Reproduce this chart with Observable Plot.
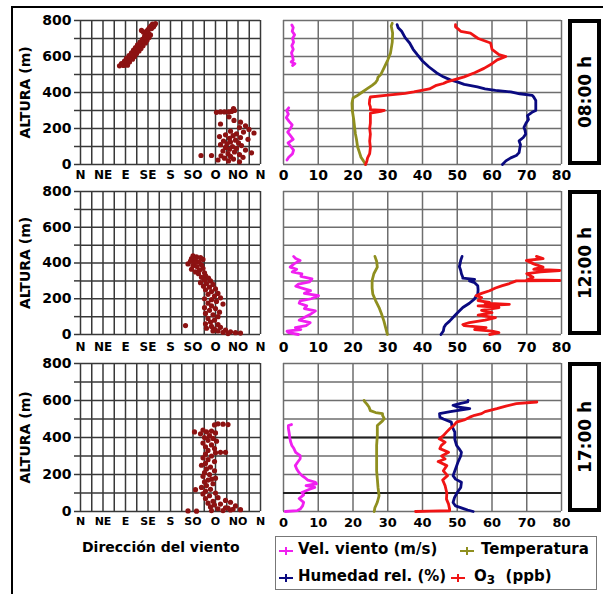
<!DOCTYPE html>
<html><head><meta charset="utf-8">
<script src="https://cdn.jsdelivr.net/npm/d3@7"></script>
<script src="https://cdn.jsdelivr.net/npm/@observablehq/plot@0.6"></script>
<style>
body{margin:0;background:#fff;font-family:"DejaVu Sans",sans-serif;}
#root{position:relative;width:603px;height:594px;overflow:hidden;background:#fff}
.tbox{position:absolute;border:4px solid #000;box-sizing:border-box;background:#fff}
.tbox span{position:absolute;left:50%;top:50%;transform:translate(-50%,-50%) rotate(-90deg);font-weight:bold;font-size:17px;white-space:nowrap}
.lg{position:absolute;font-weight:bold;font-size:15px;white-space:nowrap;line-height:1}
.mk{position:absolute}
</style></head>
<body><div id="root"></div>
<script>
// ---------- labels ----------
const dirLabels = ["N","NE","E","SE","S","SO","O","NO","N"];
const dirTicks = [0,45,90,135,180,225,270,315,360];
const valueTicks = [0,10,20,30,40,50,60,70,80];
const altTicks = [0,100,200,300,400,500,600,700,800];
const hourLabels = ["08:00 h","12:00 h","17:00 h"];
const seriesNames = ["Vel. viento (m/s)","Temperatura","Humedad rel. (%)","O3 (ppb)"];
const xTitleLeft = "Dirección del viento";
const yTitle = "ALTURA (m)";

// ---------- 08:00 ----------
// wind direction [altitude m, degrees]
const dir08 = [[548,78],[550,86],[552,94],[560,82],[565,92],[570,98],[575,88],[580,96],[585,104],[590,92],[595,100],[600,108],[605,97],[610,105],[615,112],[620,102],[625,110],[630,117],[635,106],[640,114],[645,121],[650,110],[655,118],[660,125],[665,114],[670,122],[675,130],[680,119],[685,127],[690,133],[695,124],[700,131],[705,137],[710,128],[715,135],[720,140],[725,130],[730,136],[735,126],[740,132],[745,122],[750,135],[755,142],[760,138],[765,146],[770,141],[775,148],[780,144],[783,150],
[290,272],[292,280],[292,288],[292,296],[295,302],[300,308],[310,306],[265,297],[245,307],[235,320],[225,280],[215,330],[205,318],[195,337],[185,300],[180,326],[175,347],[170,312],[165,290],[160,305],[155,278],[150,320],[145,298],[140,335],[135,310],[130,286],[125,300],[120,316],[115,293],[110,280],[105,322],[100,304],[95,290],[90,312],[85,298],[80,330],[75,285],[70,308],[65,342],[60,295],[55,318],[50,241],[50,262],[48,281],[45,300],[40,325],[35,288],[30,306],[25,275],[20,296],[15,318]];
// profiles [altitude m, value]
const ws08 = [[25,1.0],[40,1.5],[60,2.6],[80,2.9],[100,2.1],[120,1.3],[140,2.8],[160,2.0],[180,1.2],[200,2.0],[220,2.5],[240,1.6],[260,0.8],[280,1.4],[300,0.9],[315,1.5],[430,NaN],[550,2.6],[560,3.3],[570,2.2],[580,2.8],[600,2.6],[620,2.3],[640,2.8],[660,2.4],[680,2.9],[700,2.6],[720,3.2],[740,2.5],[760,2.8],[775,2.4]];
const temp08 = [[0,23.6],[20,23],[40,22.3],[70,21.8],[100,21.3],[140,21],[170,20.7],[200,20.5],[250,20.2],[300,19.8],[340,19.7],[370,20],[380,21],[400,22.5],[420,24],[440,25.5],[455,26.5],[470,27],[485,27.2],[500,28],[540,29],[580,30],[620,30.8],[680,31.3],[730,31.4],[770,31],[785,31.3]];
const hum08 = [[0,63],[20,64],[37,65.4],[50,67],[66,67.8],[90,68],[110,68.2],[131,67.8],[150,69],[169,69.7],[190,69.5],[206,69.2],[230,69.8],[250,70.5],[272,70.2],[290,71.5],[300,72.6],[330,72.6],[356,72.6],[375,72],[384,71.6],[393,68],[403,65.4],[412,61],[420,58],[431,55.8],[445,52],[459,50],[470,48],[487,46],[510,44],[543,41.8],[575,40],[610,38.5],[640,37.3],[675,36.3],[705,35],[740,34],[760,33],[777,32.7]];
const o3_08 = [[0,23.6],[20,24],[37,24.2],[60,24.8],[94,25],[130,24.8],[169,25],[200,24.8],[230,25],[262,25],[285,25],[295,28],[300,29],[305,25],[320,25],[337,24.7],[360,24.8],[375,25],[385,30],[395,35],[403,37.5],[420,42],[440,44],[450,46],[459,47],[470,49],[487,52],[510,55],[534,57.7],[560,60],[581,61.5],[600,64],[610,62],[640,60],[675,59.6],[700,56],[730,53.8],[740,51],[749,50.5],[765,49.5],[777,49.5]];

// ---------- 12:00 ----------
const dir12 = [[440,225],[435,232],[430,240],[425,222],[420,245],[415,230],[410,220],[405,237],[400,228],[395,215],[390,242],[385,225],[380,233],[370,245],[365,222],[360,238],[350,230],[345,248],[340,236],[330,250],[320,242],[315,256],[305,248],[300,260],[290,240],[285,252],[280,265],[270,246],[265,258],[255,270],[250,250],[240,262],[230,275],[225,255],[215,268],[205,280],[200,248],[195,262],[185,272],[175,255],[170,285],[160,262],[150,248],[145,270],[135,258],[125,278],[118,250],[110,265],[100,275],[90,255],[80,268],[70,260],[60,250],[55,275],[50,210],[45,262],[40,280],[35,252],[30,268],[25,290],[20,275],[15,300],[12,285],[10,310],[8,320],[5,295],[20,265]];
const ws12 = [[0,4.3],[10,1.5],[19,1],[28,5],[38,3.4],[50,6.5],[66,7.7],[80,4.5],[94,5.8],[110,7.5],[132,9.2],[145,6],[160,6.7],[175,4.5],[188,4.8],[200,8],[217,10.1],[230,6],[245,7.8],[254,6.3],[270,3.5],[282,4.3],[295,7.5],[311,8.2],[325,5],[339,5.3],[350,2.5],[365,3.8],[377,1.9],[395,3],[414,4.8],[425,3.5],[437,2.9]];
const temp12 = [[0,29.9],[30,29.5],[75,28.9],[110,28.3],[151,27.5],[190,26.5],[226,25.7],[260,25.5],[301,25.5],[340,26],[377,27],[410,26.8],[437,26.3]];
const hum12 = [[0,45.3],[20,46],[40,46.2],[56,46.7],[75,47.8],[94,48.7],[120,50],[151,51.6],[175,53.5],[198,54.9],[226,55.9],[250,56],[273,55.9],[290,55],[300,53.5],[308,55],[315,51.6],[320,51.6],[340,51.2],[358,51],[380,50.6],[395,50.8],[415,51],[437,51.4]];
const o3_12 = [[0,59.3],[10,62],[19,60],[28,55],[38,58.3],[50,52],[56,51.6],[66,53.5],[80,58],[94,61],[108,56],[122,60],[135,57],[151,62],[160,56],[169,65],[175,58],[179,59.3],[190,56],[207,57],[217,55.4],[230,57],[245,59.3],[260,61],[273,63],[285,65],[300,67],[302,79.5],[305,70],[320,71.8],[340,70],[350,74],[358,79.5],[365,72],[377,74.7],[395,72],[414,69.9],[425,74.7],[437,72.8]];

// ---------- 17:00 ----------
const dir17 = [[474,275],[472,285],[470,295],[468,268],[440,245],[435,262],[430,228],[430,252],[425,270],[420,240],[410,258],[400,248],[395,265],[385,255],[380,272],[370,245],[360,262],[350,250],[340,268],[330,255],[320,280],[320,290],[318,270],[310,250],[300,262],[290,245],[280,255],[270,268],[260,250],[250,242],[240,260],[230,252],[220,268],[210,248],[200,258],[190,245],[180,270],[175,262],[170,255],[160,248],[150,265],[140,252],[130,242],[120,260],[118,230],[110,250],[100,270],[95,245],[85,258],[75,275],[70,250],[60,290],[55,265],[50,300],[45,255],[40,280],[35,268],[30,310],[25,260],[20,290],[15,275],[10,320],[8,300],[5,285],[3,215],[2,232],[5,262],[12,305],[18,295]];
const ws17 = [[0,0.5],[5,4],[13,4.8],[30,5.5],[49,5.8],[70,4.5],[90,5.8],[103,5.3],[120,7.5],[130,9],[140,6.5],[150,9.5],[158,9.2],[170,7],[185,6],[194,5.3],[210,4.5],[230,3.8],[248,3.4],[265,4],[285,4.8],[302,4.8],[320,3.5],[340,3],[357,2.4],[380,2],[400,1.8],[429,1.6],[450,1.4],[465,1.4],[470,2.3]];
const temp17 = [[0,26.1],[20,26.3],[50,27],[85,27.5],[130,27.2],[176,27],[220,26.8],[266,26.8],[310,26.8],[357,26.8],[410,27],[465,27],[490,28.5],[502,29],[520,28.5],[529,28.5],[535,26.5],[545,25],[565,24.6],[580,24],[595,23.3],[601,23.2]];
const hum17 = [[0,54.6],[8,53],[13,52.2],[30,49.5],[49,48.8],[75,49.2],[103,50],[130,51],[158,51.2],[175,49.5],[194,48.8],[230,49.5],[266,50.2],[300,51],[320,51.2],[340,50.5],[357,49.8],[390,49.3],[429,49.3],[460,48.5],[483,48.3],[500,46],[510,45],[529,44.9],[540,48],[556,53.6],[565,50],[574,48.8],[585,51],[592,53],[601,53.1]];
const o3_17 = [[0,38],[2,42],[4,47.8],[13,47.8],[40,47.5],[67,46.9],[100,47],[140,46.5],[170,45.8],[194,47.2],[220,46],[248,47],[270,44.5],[284,46.5],[300,45.5],[320,47.5],[340,45],[357,45.4],[375,46.5],[393,44.8],[410,46],[429,46.9],[450,48],[465,49],[483,49.8],[495,52],[510,53.6],[520,55],[529,57],[540,58],[556,61.4],[570,64],[583,67],[592,72.9]];

// ---------- styling / layout ----------
const colors = {ws:"#f020f0", temp:"#8f8f1f", hum:"#0a0a80", o3:"#f01414", dir:"#8c1212"};
const rows = [
  {top:20, bottom:164, pad:6, dirFs:12, numFs:14, dark:[], dir:dir08, ws:ws08, temp:temp08, hum:hum08, o3:o3_08, hour:hourLabels[0]},
  {top:191, bottom:334, pad:8, dirFs:12, numFs:14, dark:[], dir:dir12, ws:ws12, temp:temp12, hum:hum12, o3:o3_12, hour:hourLabels[1]},
  {top:363, bottom:511, pad:6, dirFs:11, numFs:13, dark:[100,400], dir:dir17, ws:ws17, temp:temp17, hum:hum17, o3:o3_17, hour:hourLabels[2]}
];

const root = document.getElementById("root");
const baseStyle = {fontFamily:"DejaVu Sans", fontWeight:"bold", background:"transparent", color:"#000", overflow:"visible"};

function place(el, left, top) {
  el.style.position = "absolute";
  el.style.left = left + "px";
  el.style.top = top + "px";
  root.appendChild(el);
}

function leftPlot(r) {
  const mt = 10, mb = 26, ml = 80, mr = 8;
  const h = r.bottom - r.top;
  const svg = Plot.plot({
    width: ml + 180 + mr, height: mt + h + mb,
    marginTop: mt, marginBottom: mb, marginLeft: ml, marginRight: mr,
    style: baseStyle,
    x: {domain: [0, 360]}, y: {domain: [0, 800]},
    marks: [
      Plot.gridX(d3.range(0, 361, 22.5), {stroke: "#383838", strokeOpacity: 1, strokeWidth: 1.5}),
      Plot.gridY(altTicks, {stroke: "#383838", strokeOpacity: 1, strokeWidth: 1.5}),
      Plot.axisX(dirTicks, {tickSize: 0, tickPadding: r.pad, tickFormat: d => dirLabels[Math.round(d / 45)], fontSize: r.dirFs, fontWeight: "bold"}),
      Plot.axisY(altTicks, {tickSize: 6, tickPadding: 3, tickFormat: d => d % 200 === 0 ? String(d) : "", fontSize: 14, fontWeight: "bold", stroke: "#383838", strokeWidth: 1.5}),
      Plot.text([yTitle], {frameAnchor: "left", rotate: -90, dx: -55, textAnchor: "middle", lineAnchor: "middle", fontSize: 14, fontWeight: "bold"}),
      Plot.dot(r.dir, {x: d => d[1], y: d => d[0], r: 2.6, fill: colors.dir, stroke: "none"})
    ]
  });
  place(svg, 0, r.top - mt);
}

function rightPlot(r) {
  const mt = 10, mb = 26, ml = 12, mr = 8;
  const h = r.bottom - r.top;
  const line = (data, c) => Plot.line(data, {x: d => d[1], y: d => d[0], stroke: c, strokeWidth: 2.8});
  const svg = Plot.plot({
    width: ml + 278 + mr, height: mt + h + mb,
    marginTop: mt, marginBottom: mb, marginLeft: ml, marginRight: mr,
    style: baseStyle,
    x: {domain: [0, 80]}, y: {domain: [0, 800], axis: null},
    marks: [
      Plot.gridX(valueTicks, {stroke: "#6e6e6e", strokeOpacity: 1, strokeWidth: 1.5}),
      Plot.gridY(altTicks, {stroke: "#6e6e6e", strokeOpacity: 1, strokeWidth: 1.5}),
      Plot.ruleY(r.dark, {stroke: "#222", strokeWidth: 2}),
      Plot.axisX(valueTicks, {tickSize: 0, tickPadding: r.pad, fontSize: r.numFs, fontWeight: "bold"}),
      line(r.ws, colors.ws),
      line(r.temp, colors.temp),
      line(r.hum, colors.hum),
      line(r.o3, colors.o3)
    ]
  });
  place(svg, 283 - ml, r.top - mt);
  const box = document.createElement("div");
  box.className = "tbox";
  box.style.left = "568px"; box.style.top = (r.top - 1) + "px";
  box.style.width = "33px"; box.style.height = (r.bottom - r.top + 2) + "px";
  const sp = document.createElement("span");
  sp.textContent = r.hour;
  box.appendChild(sp);
  root.appendChild(box);
}

rows.forEach(r => { leftPlot(r); rightPlot(r); });

// frame lines
const fTop = document.createElement("div");
fTop.style.cssText = "position:absolute;left:11px;top:6px;width:592px;height:2px;background:#000;z-index:5";
root.appendChild(fTop);
const fLeft = document.createElement("div");
fLeft.style.cssText = "position:absolute;left:11px;top:6px;width:2px;height:588px;background:#000;z-index:5";
root.appendChild(fLeft);

// bottom titles / legend
const xt = document.createElement("div");
xt.className = "lg"; xt.style.left = "82px"; xt.style.top = "540px"; xt.style.fontSize = "14px";
xt.textContent = xTitleLeft;
root.appendChild(xt);

const lbox = document.createElement("div");
lbox.style.cssText = "position:absolute;left:275px;top:536px;width:322px;height:54px;border:1px solid #777;box-sizing:border-box";
root.appendChild(lbox);

function marker(c, cx, cy) {
  const ns = "http://www.w3.org/2000/svg";
  const s = document.createElementNS(ns, "svg");
  s.setAttribute("width", 14); s.setAttribute("height", 10);
  s.setAttribute("class", "mk");
  s.style.left = (cx - 7) + "px"; s.style.top = (cy - 5) + "px";
  s.innerHTML = `<line x1="0" y1="5" x2="14" y2="5" stroke="${c}" stroke-width="2"/><line x1="7" y1="1" x2="7" y2="9" stroke="${c}" stroke-width="2"/>`;
  root.appendChild(s);
}
function ltext(t, x, cy, html) {
  const d = document.createElement("div");
  d.className = "lg"; d.style.left = x + "px"; d.style.top = (cy - 8) + "px";
  if (html) d.innerHTML = t; else d.textContent = t;
  root.appendChild(d);
}
marker(colors.ws, 286, 551); ltext(seriesNames[0], 298, 550);
marker(colors.temp, 467, 551); ltext(seriesNames[1], 481, 550);
marker(colors.hum, 286, 578); ltext(seriesNames[2], 298, 577);
marker(colors.o3, 458, 578); ltext('O<sub style="font-size:12px;vertical-align:-3px">3</sub>&nbsp;&nbsp;(ppb)', 474, 577, true);
</script>
</body></html>
